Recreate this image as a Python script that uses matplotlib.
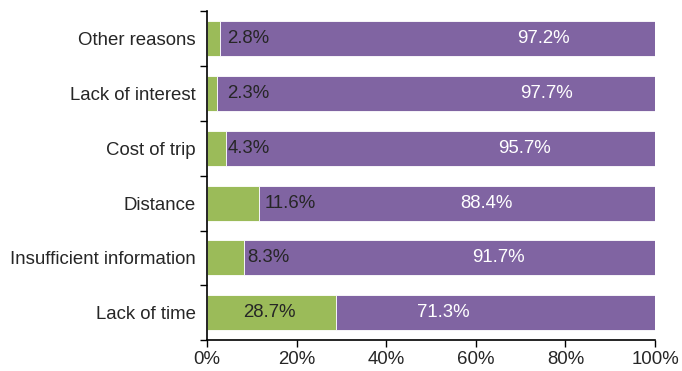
import matplotlib.pyplot as plt
import numpy as np

plt.rcParams['font.family'] = ['Liberation Sans', 'DejaVu Sans']

# data, bottom to top
categories = ['Lack of time', 'Insufficient information', 'Distance',
              'Cost of trip', 'Lack of interest', 'Other reasons']
green_vals = [28.7, 8.3, 11.6, 4.3, 2.3, 2.8]
purple_vals = [71.3, 91.7, 88.4, 95.7, 97.7, 97.2]
xticks = [0, 20, 40, 60, 80, 100]
xtick_labels = ['0%', '20%', '40%', '60%', '80%', '100%']

# label placement (x in %)
green_label_x = [8.0, 8.9, 12.8, 4.6, 4.6, 4.6]
purple_label_x = [52.7, 65.0, 62.4, 70.9, 75.7, 75.0]

GREEN = '#9BBB59'
PURPLE = '#8064A2'
FS = 13.4

fig = plt.figure(figsize=(6.82, 3.71), dpi=100)
ax = fig.add_axes([0.3035, 0.083, 0.657, 0.887])

y = np.arange(len(categories))
ax.barh(y, green_vals, height=0.64, color=GREEN, edgecolor='white', linewidth=0.6)
ax.barh(y, purple_vals, left=green_vals, height=0.64, color=PURPLE,
        edgecolor='white', linewidth=0.6)

for i in range(len(categories)):
    ax.text(green_label_x[i], y[i], f'{green_vals[i]:.1f}%', ha='left', va='center',
            fontsize=FS, color='#262626')
    ax.text(purple_label_x[i], y[i], f'{purple_vals[i]:.1f}%', ha='center', va='center',
            fontsize=FS, color='white')

ax.set_xlim(0, 100)
ax.set_ylim(-0.5, len(categories) - 0.5)
ax.set_xticks(xticks)
ax.set_xticklabels(xtick_labels, fontsize=FS, color='#262626')
ax.set_yticks(y)
ax.set_yticklabels(categories, fontsize=FS, color='#262626')
ax.set_yticks(np.arange(-0.5, len(categories)), minor=True)
ax.tick_params(axis='y', which='major', length=0, pad=8)
ax.tick_params(axis='y', which='minor', length=5, width=1, direction='out')
ax.tick_params(axis='x', length=5, width=1, direction='out', pad=3)

for s in ['top', 'right']:
    ax.spines[s].set_visible(False)
ax.spines['left'].set_linewidth(1.2)
ax.spines['bottom'].set_linewidth(1.2)

fig.savefig('out.png', dpi=100)
